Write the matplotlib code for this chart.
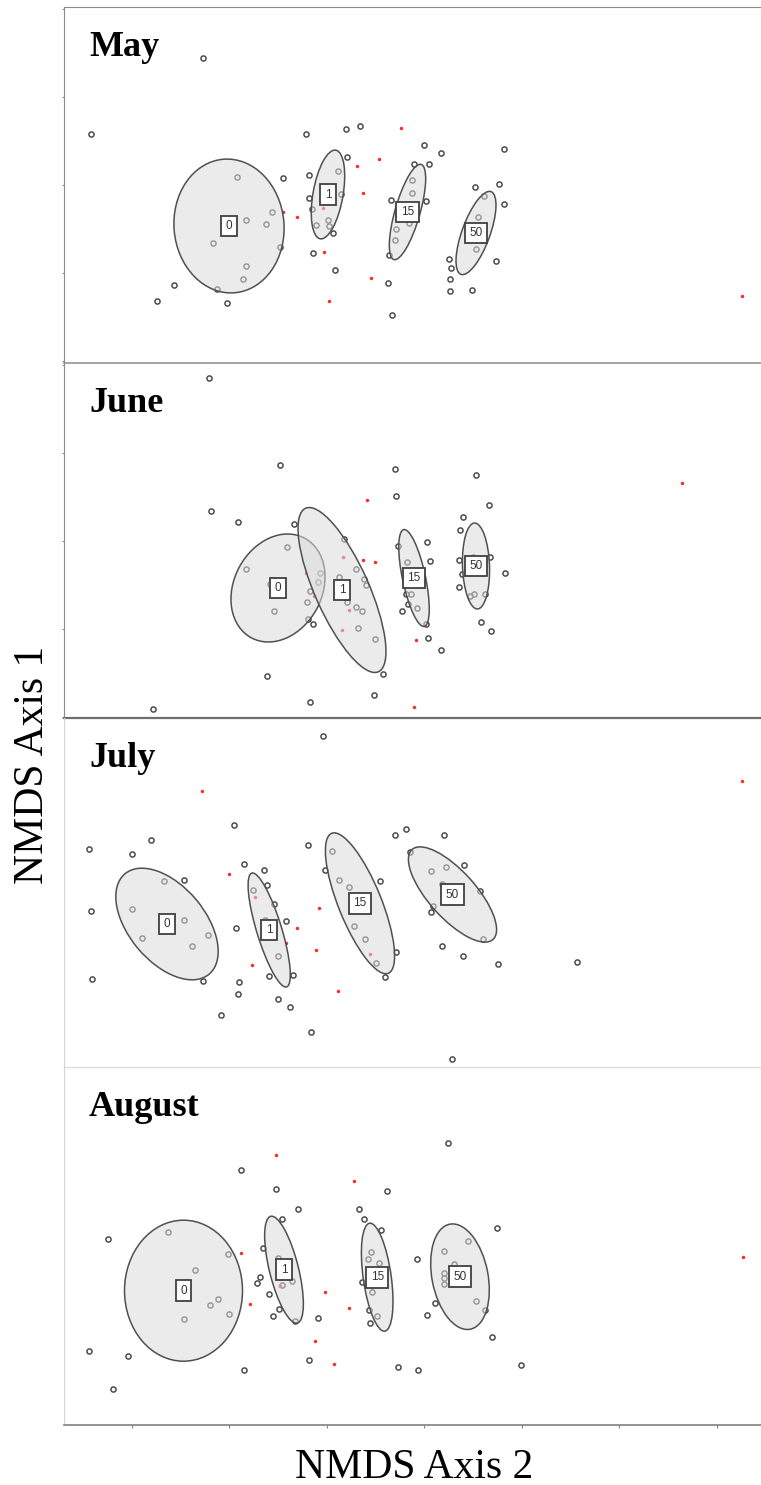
import matplotlib.pyplot as plt
from matplotlib.patches import Ellipse
from matplotlib.ticker import MultipleLocator, NullLocator

months = ['May', 'June', 'July', 'August']
groups = ['0', '1', '15', '50']

# NMDS site scores (axis 2, axis 1) -- open circles
may_sites = [
    (-2.21, 1.27), (-3.33, 0.51), (-1.18, 0.51), (-0.78, 0.56), (-0.64, 0.59),
    (-0.77, 0.28), (-1.41, 0.07), (-1.15, 0.10), (-1.15, -0.13), (-1.12, -0.24),
    (-1.08, -0.40), (-0.91, -0.48), (-1.11, -0.68), (-0.89, -0.85), (-2.50, -1.00),
    (-2.67, -1.16), (-1.97, -1.18), (-2.07, -1.04), (-0.33, -0.15), (-0.36, -0.98),
    (-0.32, -1.30), (-0.35, -0.70), (0.00, 0.40), (0.17, 0.32), (-0.10, 0.21),
    (0.05, 0.21), (0.02, -0.16), (0.80, 0.36), (0.51, -0.02), (0.75, 0.01),
    (0.80, -0.19), (0.72, -0.76), (0.25, -0.74), (0.27, -0.83), (0.26, -0.94),
    (0.26, -1.06), (0.48, -1.05), (-1.87, 0.08), (-1.78, -0.35), (-1.52, -0.27),
    (-1.58, -0.39), (-2.11, -0.58), (-1.44, -0.62), (-1.78, -0.81), (-1.81, -0.94),
    (-0.86, 0.14), (-0.83, -0.09), (-0.96, -0.35), (-0.95, -0.41), (-0.12, 0.05),
    (-0.12, -0.08), (-0.15, -0.38), (-0.28, -0.44), (-0.29, -0.55), (0.60, -0.11),
    (0.54, -0.32), (0.52, -0.64),
]
june_sites = [
    (-2.15, 1.63), (-1.44, 0.76), (-0.29, 0.72), (-0.28, 0.45), (-2.13, 0.30),
    (-1.86, 0.19), (-1.30, 0.17), (-0.80, 0.02), (-0.26, -0.05), (-0.60, -0.38),
    (-0.58, -0.44), (-1.11, -0.83), (-0.22, -0.70), (-1.57, -1.35), (-0.41, -1.33),
    (-0.50, -1.54), (-1.14, -1.61), (-2.71, -1.68), (-0.18, -0.53), (-0.16, -0.63),
    (0.03, -0.01), (0.06, -0.20), (0.02, -0.83), (0.04, -0.97), (0.17, -1.09),
    (0.52, 0.66), (0.65, 0.36), (0.39, 0.24), (0.36, 0.11), (0.35, -0.19),
    (0.66, -0.16), (0.38, -0.33), (0.81, -0.32), (0.35, -0.46), (0.57, -0.81),
    (0.67, -0.90), (-1.37, -0.06), (-1.78, -0.28), (-1.54, -0.43), (-1.04, -0.32),
    (-1.06, -0.41), (-1.14, -0.50), (-1.17, -0.61), (-1.50, -0.70), (-1.16, -0.78),
    (-0.68, -0.28), (-0.85, -0.36), (-0.77, -0.61), (-0.68, -0.66), (-0.62, -0.70),
    (-0.66, -0.87), (-0.49, -0.98), (-0.17, -0.21), (-0.13, -0.53), (-0.07, -0.67),
    (0.49, -0.16), (0.50, -0.53), (0.46, -0.55), (0.61, -0.53),
]
july_sites = [
    (-1.01, 1.56), (-1.90, 0.68), (-2.73, 0.53), (-3.35, 0.44), (-2.92, 0.39),
    (-1.16, 0.48), (-0.29, 0.58), (-0.18, 0.64), (-1.80, 0.29), (-1.60, 0.23),
    (-0.99, 0.23), (-2.40, 0.13), (-1.57, 0.08), (-0.44, 0.12), (-3.33, -0.18),
    (-1.50, -0.11), (-1.38, -0.28), (-1.88, -0.35), (-0.28, -0.59), (-0.48, -0.70),
    (-2.21, -0.88), (-1.31, -0.82), (-1.55, -0.83), (-0.39, -0.84), (-3.32, -0.86),
    (-1.85, -0.89), (-1.86, -1.01), (-1.46, -1.06), (-1.34, -1.14), (-2.03, -1.22),
    (-1.13, -1.39), (0.20, 0.58), (-0.14, 0.41), (0.40, 0.28), (0.07, -0.19),
    (0.18, -0.53), (0.39, -0.63), (0.74, -0.71), (1.53, -0.69), (0.28, -1.66),
    (-2.60, 0.12), (-2.92, -0.16), (-2.40, -0.27), (-2.16, -0.42), (-2.82, -0.45),
    (-2.32, -0.53), (-1.71, 0.03), (-1.59, -0.27), (-1.46, -0.63), (-0.92, 0.42),
    (-0.85, 0.13), (-0.75, 0.06), (-0.70, -0.33), (-0.59, -0.46), (0.07, 0.22),
    (0.22, 0.26), (0.18, 0.09), (0.56, 0.02), (0.09, -0.13), (0.59, -0.46),
]
august_sites = [
    (-1.83, 0.76), (-1.48, 0.57), (-0.37, 0.55), (-1.26, 0.37), (-0.65, 0.37),
    (-0.60, 0.27), (-1.42, 0.27), (-0.43, 0.16), (-3.16, 0.07), (-1.61, -0.02),
    (-1.64, -0.31), (-1.67, -0.37), (-1.55, -0.48), (-0.62, -0.36), (-1.45, -0.63),
    (-1.51, -0.70), (-1.06, -0.72), (-0.55, -0.64), (-0.54, -0.77), (-3.35, -1.05),
    (-2.96, -1.10), (-1.15, -1.14), (-1.80, -1.24), (-0.26, -1.21), (-3.11, -1.43),
    (0.24, 1.03), (0.73, 0.18), (-0.07, -0.13), (0.11, -0.57), (0.03, -0.69),
    (0.68, -0.91), (-0.06, -1.24), (0.97, -1.19), (-2.56, 0.14), (-1.96, -0.08),
    (-2.29, -0.24), (-2.06, -0.53), (-2.14, -0.59), (-1.95, -0.68), (-2.40, -0.73),
    (-1.46, -0.12), (-1.32, -0.35), (-1.42, -0.39), (-1.29, -0.75), (-0.53, -0.06),
    (-0.56, -0.13), (-0.45, -0.17), (-0.52, -0.46), (-0.47, -0.70), (0.44, 0.05),
    (0.20, -0.05), (0.30, -0.18), (0.20, -0.27), (0.20, -0.32), (0.20, -0.38),
    (0.52, -0.55), (0.61, -0.64),
]

# species scores -- red points
may_species = [
    (-0.23, 0.57), (-0.45, 0.26), (-0.67, 0.19), (-0.61, -0.08), (-1.41, -0.27),
    (-1.27, -0.32), (-1.01, -0.23), (-1.00, -0.67), (-0.53, -0.93), (-0.95, -1.16),
    (3.18, -1.11),
]
june_species = [
    (-0.57, 0.41), (-0.61, -0.19), (-0.49, -0.21), (-0.81, -0.16), (-1.18, -0.32),
    (-1.10, -0.55), (-0.75, -0.69), (-0.82, -0.89), (-0.08, -0.99), (-0.10, -1.66),
    (2.58, 0.58),
]
july_species = [
    (-2.22, 1.02), (-1.95, 0.19), (-1.69, -0.04), (-1.05, -0.15), (-1.27, -0.35),
    (-1.38, -0.50), (-1.08, -0.57), (-1.72, -0.72), (-0.86, -0.98), (-0.54, -0.61),
    (3.18, 1.12),
]
august_species = [
    (-1.48, 0.91), (-0.70, 0.65), (-1.83, -0.07), (-0.99, -0.46), (-1.74, -0.58),
    (-0.75, -0.62), (-1.09, -0.95), (-0.90, -1.18), (-1.44, -0.40), (3.19, -0.11),
]

# dose-group ellipses: centre x, centre y, width, height, angle (deg)
may_ellipses = [(-1.95, -0.41, 1.10, 1.34, 5), (-0.96, -0.095, 0.30, 0.90, -10),
                (-0.165, -0.27, 0.25, 0.99, -16), (0.52, -0.48, 0.28, 0.88, -20)]
june_ellipses = [(-1.46, -0.475, 0.88, 1.13, -28), (-0.82, -0.495, 0.54, 1.79, 24),
                 (-0.10, -0.375, 0.23, 0.99, 12), (0.52, -0.255, 0.27, 0.86, 2)]
july_ellipses = [(-2.57, -0.315, 0.76, 1.31, 40), (-1.548, -0.375, 0.25, 1.19, 17),
                 (-0.64, -0.108, 0.43, 1.51, 22), (0.285, -0.02, 0.47, 1.21, 42)]
august_ellipses = [(-2.405, -0.447, 1.18, 1.41, 0), (-1.40, -0.237, 0.29, 1.10, 14),
                   (-0.468, -0.312, 0.28, 1.09, 8), (0.36, -0.307, 0.56, 1.07, 11)]

panel_heights = [356, 355, 349, 358]
sites = [may_sites, june_sites, july_sites, august_sites]
species = [may_species, june_species, july_species, august_species]
ellipses = [may_ellipses, june_ellipses, july_ellipses, august_ellipses]

# frame colours per panel (left, bottom) -- the panels come from separate exports
left_col = ['#8a8a8a', '#8a8a8a', '#d4d4d4', '#d4d4d4']
bottom_col = ['#8c8c8c', '#6e6e6e', '#dedede', '#808080']
bottom_lw = [1.1, 1.6, 1.0, 1.2]

fig = plt.figure(figsize=(7.61, 14.85), dpi=100)
gs = fig.add_gridspec(4, 1, left=64 / 761, right=1.0, top=1 - 7 / 1485,
                      bottom=1 - 1425 / 1485, hspace=0, height_ratios=panel_heights)

for i, month in enumerate(months):
    ax = fig.add_subplot(gs[i])
    ax.patch.set_visible(False)
    half = panel_heights[i] / 200
    ax.set_xlim(-3.60, 3.37)
    ax.set_ylim(-half, half)

    sx = [p[0] for p in sites[i]]
    sy = [p[1] for p in sites[i]]
    ax.plot(sx, sy, 'o', ms=3.7, mfc='none', mec='#4c4c4c', mew=1.1, zorder=2)
    rx = [p[0] for p in species[i]]
    ry = [p[1] for p in species[i]]
    ax.plot(rx, ry, 'o', ms=2.5, color='#ff2a2a', mew=0, zorder=2)

    for (cx, cy, w, h, ang), g in zip(ellipses[i], groups):
        ax.add_patch(Ellipse((cx, cy), w, h, angle=ang, fc=(0.86, 0.86, 0.86, 0.55),
                             ec='#505050', lw=1.1, zorder=3))
        ax.text(cx, cy, g, ha='center', va='center', fontsize=8.5,
                family='Liberation Sans', color='#333333', zorder=5,
                bbox=dict(boxstyle='square,pad=0.38', fc='white', ec='#404040', lw=1.3))

    ax.annotate(month, xy=(0, 1), xycoords='axes fraction', xytext=(25, -49),
                textcoords='offset pixels', fontsize=26, fontweight='bold',
                family='Liberation Serif', ha='left', va='baseline')

    ax.spines['right'].set_visible(False)
    ax.spines['top'].set_visible(i == 0)
    ax.spines['top'].set_color('#8a8a8a')
    ax.spines['left'].set_color(left_col[i])
    ax.spines['bottom'].set_color(bottom_col[i])
    ax.spines['bottom'].set_linewidth(bottom_lw[i])
    ax.spines['top'].set_zorder(6)
    ax.spines['bottom'].set_zorder(6)

    if i < 2:
        ax.yaxis.set_major_locator(MultipleLocator(0.88))
        ax.tick_params(axis='y', length=1.5, color='#909090', labelleft=False)
    else:
        ax.yaxis.set_major_locator(NullLocator())
    if i == 3:
        ax.xaxis.set_major_locator(MultipleLocator(0.975))
        ax.tick_params(axis='x', length=2.5, color='#808080', labelbottom=False)
    else:
        ax.xaxis.set_major_locator(NullLocator())

fig.text(43 / 761, 1 - 765 / 1485, 'NMDS Axis 1', rotation=90, rotation_mode='anchor',
         fontsize=30, family='Liberation Serif', ha='center', va='baseline')
fig.text(414 / 761, 1 - 1478 / 1485, 'NMDS Axis 2', fontsize=30,
         family='Liberation Serif', ha='center', va='baseline')

fig.savefig('out.png', dpi=100, facecolor='white')
